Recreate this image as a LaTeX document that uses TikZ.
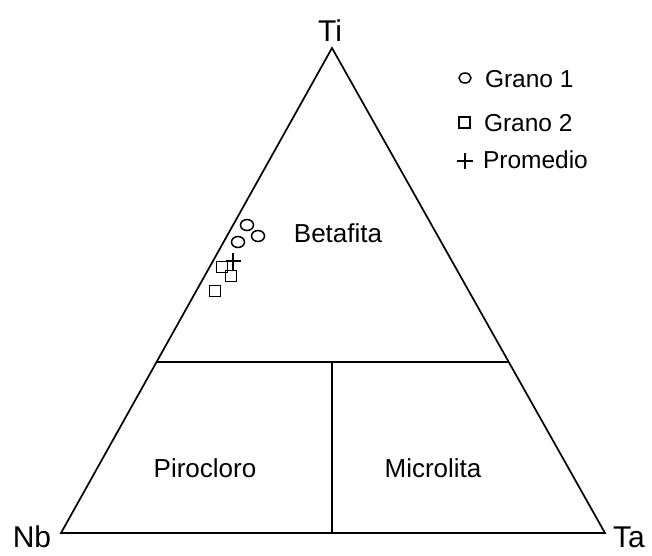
\documentclass[tikz,border=0pt]{standalone}
\usepackage{fontspec}
\setmainfont{Liberation Sans}
\usetikzlibrary{positioning}

\begin{document}
\begin{tikzpicture}[x=1pt, y=-1pt, line width=1.7pt,
  every node/.style={inner sep=0pt, outer sep=0pt},
  vertexlabel/.style={font=\fontsize{30}{30}\selectfont, anchor=base},
  fieldlabel/.style={font=\fontsize{26}{26}\selectfont, anchor=base},
  legendlabel/.style={font=\fontsize{24.5}{24.5}\selectfont, anchor=base west},
  mkline/.style={line width=1.5pt}]
  \useasboundingbox (0,0) rectangle (652,555);

  % ---- Ternary triangle ----
  \coordinate (Nb) at (61,533);
  \coordinate (Ti) at (332,48);
  \coordinate (Ta) at (605,533);
  \draw[line join=miter] (Nb) -- (Ti) -- (Ta) -- cycle;

  % ---- Field boundaries ----
  \coordinate (fieldL) at (156.5,362);
  \coordinate (fieldR) at (508.7,362);
  \coordinate (fieldM) at (332,362);
  \coordinate (fieldB) at (332,533);
  \draw (fieldL) -- (fieldR);
  \draw (fieldM) -- (fieldB);

  % ---- Vertex labels ----
  \node[vertexlabel] (lblTi) at (330,41) {Ti};
  \node[vertexlabel] (lblNb) at (32,547) {Nb};
  \node[vertexlabel, anchor=base west] (lblTa) at (613,547) {Ta};

  % ---- Field labels ----
  \node[fieldlabel] (lblBeta) at (338,242) {Betafita};
  \node[fieldlabel] (lblPiro) at (205,477) {Pirocloro};
  \node[fieldlabel] (lblMicro) at (433,477) {Microlita};

  % ---- Data: Grano 1 ----
  \foreach \px/\py in {247/225, 258/236, 238/242}{
    \draw[mkline] (\px,\py) ellipse [x radius=6.5, y radius=5.5];
  }
  % ---- Data: Grano 2 ----
  \foreach \px/\py in {222/267, 231/276, 215/291}{
    \draw[mkline] (\px-5.6,\py-5.6) rectangle +(11.2,11.2);
  }
  % ---- Data: Promedio ----
  \draw[mkline] (226,261) -- (241,261);
  \draw[mkline] (233,253) -- (233,270);

  % ---- Legend ----
  \draw[mkline] (465,78) ellipse [x radius=6, y radius=5];
  \node[legendlabel] (legG1) at (485,87) {Grano 1};
  \draw[mkline] (459,117) rectangle +(11,11);
  \node[legendlabel] (legG2) at (484,131) {Grano 2};
  \draw[line width=1.2pt] (457,161) -- (473,161);
  \draw[line width=1.2pt] (465,153) -- (465,169);
  \node[legendlabel] (legP) at (483,168) {Promedio};

\end{tikzpicture}
\end{document}
